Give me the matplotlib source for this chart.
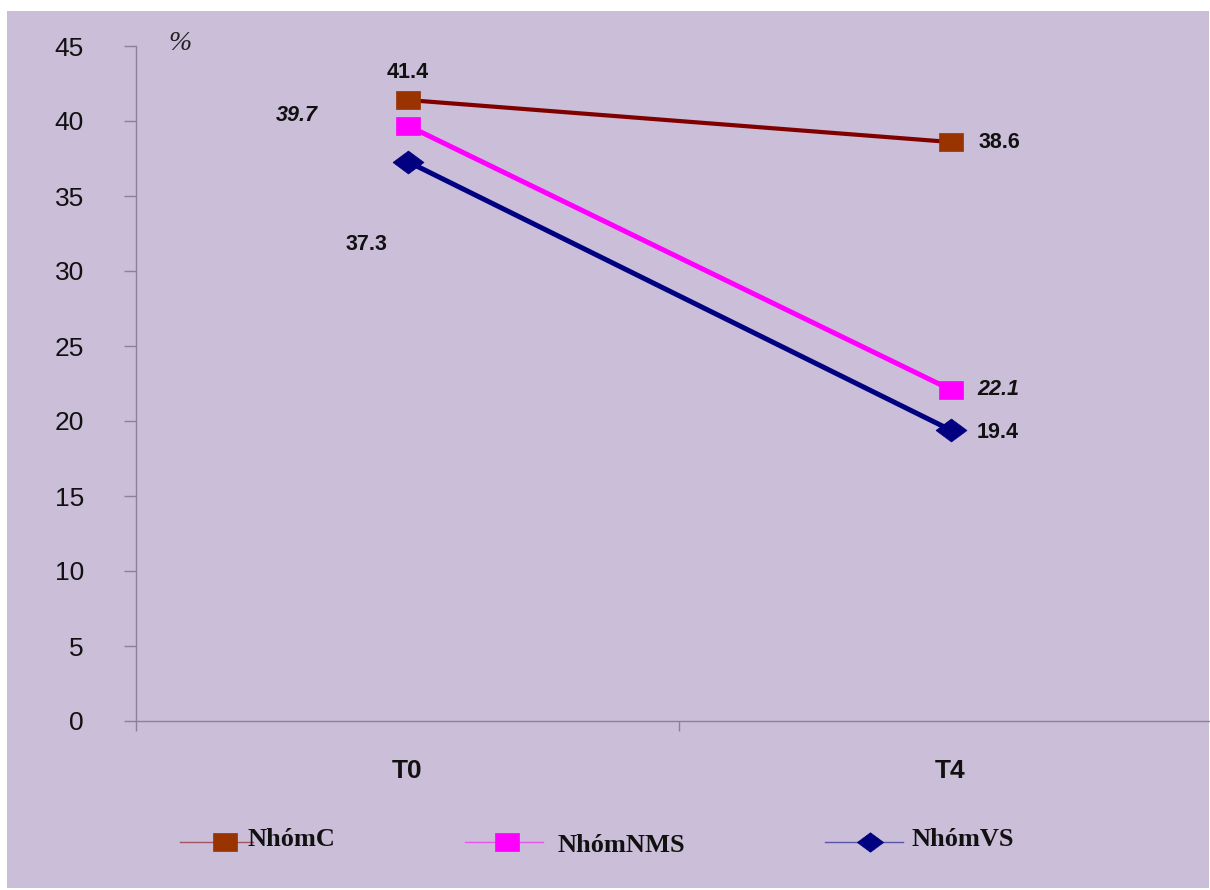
import matplotlib
matplotlib.use("Agg")
import matplotlib.pyplot as plt
from matplotlib.patches import Rectangle
from matplotlib.lines import Line2D

# --- data ---
periods = ["T0", "T4"]
series_names = ["NhómC", "NhómNMS", "NhómVS"]
nhom_c = [41.4, 38.6]
nhom_nms = [39.7, 22.1]
nhom_vs = [37.3, 19.4]
y_ticks = [0, 5, 10, 15, 20, 25, 30, 35, 40, 45]

W, H, DPI = 1210, 890, 100
BG = "#CBBED8"
AXIS_COL = "#8A8296"

fig = plt.figure(figsize=(W / DPI, H / DPI), dpi=DPI, facecolor="white")

def fx(px):
    return px / W

def fy(py):
    return 1 - py / H

# lavender panel
fig.add_artist(Rectangle((fx(7), fy(888)), fx(1209) - fx(7), fy(11) - fy(888),
                         transform=fig.transFigure, facecolor=BG, edgecolor="none", zorder=0))

ax = fig.add_axes([fx(136), fy(721), fx(1222) - fx(136), fy(46) - fy(721)])
ax.set_facecolor("none")
ax.set_xlim(-0.5, 1.5)
ax.set_ylim(0, 45)

for s in ["top", "right"]:
    ax.spines[s].set_visible(False)
for s in ["left", "bottom"]:
    ax.spines[s].set_color(AXIS_COL)
    ax.spines[s].set_linewidth(1.0)

# y axis
ax.set_yticks(y_ticks)
ax.set_yticklabels([str(v) for v in y_ticks])
ax.tick_params(axis="y", direction="out", length=8.6, width=1.0, color=AXIS_COL,
               pad=29, labelsize=19, labelcolor="#111111")
for lab in ax.get_yticklabels():
    lab.set_fontfamily("Liberation Sans")

# x axis: ticks on category boundaries, labels at centres
x = list(range(len(periods)))
ax.set_xticks([-0.5, 0.5, 1.5])
ax.set_xticklabels([])
ax.tick_params(axis="x", which="major", direction="out", length=7.5, width=1.0, color=AXIS_COL)
ax.set_xticks(x, minor=True)
ax.set_xticklabels(periods, minor=True)
ax.tick_params(axis="x", which="minor", length=0, pad=27, labelsize=19, labelcolor="#111111")
for lab in ax.get_xticklabels(minor=True):
    lab.set_fontfamily("Liberation Sans")
    lab.set_fontweight("bold")

# markers
rect_marker = [(-0.5, -0.354), (0.5, -0.354), (0.5, 0.354), (-0.5, 0.354), (-0.5, -0.354)]
diam_marker = [(-0.5, 0), (0, 0.37), (0.5, 0), (0, -0.37), (-0.5, 0)]

styles = [
    dict(data=nhom_c, line="#800000", mfc="#993300", marker=rect_marker, ms=17.3, lw=3.0),
    dict(data=nhom_nms, line="#FF00FF", mfc="#FF00FF", marker=rect_marker, ms=17.3, lw=3.6),
    dict(data=nhom_vs, line="#000080", mfc="#000080", marker=diam_marker, ms=22.3, lw=3.6),
]
for st in styles:
    ax.plot(x, st["data"], color=st["line"], lw=st["lw"], marker=st["marker"],
            ms=st["ms"], mfc=st["mfc"], mec=st["mfc"], mew=0.5, zorder=3, clip_on=False)

# value labels (offsets in points)
lab_font = dict(fontfamily="Liberation Sans", fontweight="bold", fontsize=15.5, color="#111111")
ann = [
    (0, nhom_c[0], (0, 20), "center", "normal"),
    (1, nhom_c[1], (20, 0), "left", "normal"),
    (0, nhom_nms[0], (-80, 7), "center", "italic"),
    (1, nhom_nms[1], (19, 0), "left", "italic"),
    (0, nhom_vs[0], (-29.5, -60), "center", "normal"),
    (1, nhom_vs[1], (19, -1.5), "left", "normal"),
]
for xi, yi, off, ha, style in ann:
    ax.annotate(f"{yi:.1f}", (xi, yi), xytext=off, textcoords="offset points",
                ha=ha, va="center", fontstyle=style, **lab_font)

# unit label
fig.text(fx(180), fy(43), "%", fontfamily="Liberation Serif", fontstyle="italic",
         fontsize=20, color="#222222", ha="center", va="center")

# legend drawn along the bottom
leg = [
    (180, 253, 225, 248, 839, styles[0]),
    (465, 543, 507, 558, 845, styles[1]),
    (825, 903, 870, 912, 839, styles[2]),
]
for (x0, x1, xm, xt, yt, st), name in zip(leg, series_names):
    fig.add_artist(Line2D([fx(x0), fx(x1)], [fy(842), fy(842)], transform=fig.transFigure,
                          color=st["line"], lw=1.0, alpha=0.55, zorder=2))
    fig.add_artist(Line2D([fx(xm)], [fy(842)], transform=fig.transFigure, marker=st["marker"],
                          ms=st["ms"] * (17.5 / 17.3 if st["marker"] is rect_marker else 0.85),
                          mfc=st["mfc"], mec=st["mfc"], mew=0.5, lw=0, zorder=3))
    fig.text(fx(xt), fy(yt), name, fontfamily="Liberation Serif", fontweight="bold",
             fontsize=19, color="#111111", ha="left", va="center", zorder=4)

fig.savefig("out.png", dpi=DPI, facecolor="white")
